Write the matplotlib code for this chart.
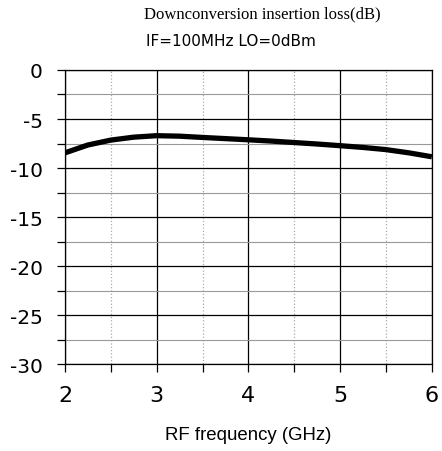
import numpy as np
import matplotlib.pyplot as plt
from matplotlib.ticker import MultipleLocator

plt.rcParams['axes.unicode_minus'] = False

# insertion loss
freq = [2.0, 2.25, 2.5, 2.75, 3.0, 3.25, 3.5, 3.75, 4.0, 4.25, 4.5, 4.75, 5.0, 5.25, 5.5, 5.75, 6.0]
loss = [-8.45, -7.65, -7.15, -6.85, -6.7, -6.75, -6.88, -7.0, -7.12, -7.25, -7.4, -7.55, -7.72, -7.9, -8.12, -8.45, -8.85]

fig = plt.figure(figsize=(4.42, 4.52), dpi=100)
ax = fig.add_axes([0.147, 0.192, 0.83, 0.651])

ax.plot(freq, loss, color='black', lw=3.8, solid_capstyle='butt')

ax.set_xlim(2, 6)
ax.set_ylim(-30, 0)
ax.xaxis.set_major_locator(MultipleLocator(1))
ax.xaxis.set_minor_locator(MultipleLocator(0.5))
ax.yaxis.set_major_locator(MultipleLocator(5))
ax.yaxis.set_minor_locator(MultipleLocator(2.5))

ax.grid(which='major', color='black', lw=0.9)
ax.grid(which='minor', axis='x', color='#aaaaaa', lw=0.9, ls=':')
ax.grid(which='minor', axis='y', color='#999999', lw=0.8)

for s in ax.spines.values():
    s.set_linewidth(0.9)
ax.tick_params(which='both', direction='out', length=6, width=0.9)
ax.tick_params(axis='y', labelsize=14.5, pad=10)
ax.tick_params(axis='x', labelsize=16, pad=9)

ax.set_xlabel('RF frequency (GHz)', fontsize=13.4, family='Liberation Sans', labelpad=15)

fig.text(0.593, 0.969, 'Downconversion insertion loss(dB)', ha='center', va='center',
         fontsize=12, family='Liberation Serif')
fig.text(0.522, 0.908, 'IF=100MHz LO=0dBm', ha='center', va='center', fontsize=11)

fig.savefig('out.png', dpi=100)
